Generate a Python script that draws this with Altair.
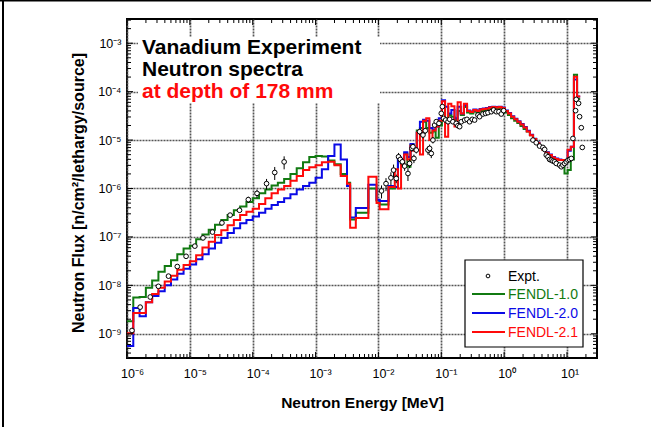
import json
import altair as alt
import pandas as pd

# ---------------------------------------------------------------------------
# Energy group boundaries, log10(E / MeV)
# ---------------------------------------------------------------------------
group_edges_log10 = [
    -6.0, -5.9, -5.8, -5.7, -5.6, -5.5, -5.4, -5.3, -5.2, -5.1,
    -5.0, -4.9, -4.8, -4.7, -4.6, -4.5, -4.4, -4.3, -4.2, -4.1,
    -4.0, -3.9, -3.8, -3.7, -3.6, -3.5, -3.4, -3.3, -3.2, -3.1,
    -3.0, -2.9, -2.8, -2.7, -2.6, -2.5,
    -2.45, -2.36, -2.16, -2.03, -1.98, -1.84, -1.74,
    -1.69, -1.64, -1.59, -1.54, -1.49, -1.44, -1.39, -1.34, -1.29, -1.24,
    -1.19, -1.14, -1.09, -1.04, -0.99, -0.94, -0.89, -0.84, -0.79, -0.74,
    -0.69, -0.64, -0.59,
    -0.54, -0.49, -0.44, -0.39, -0.34, -0.29, -0.24, -0.19, -0.14, -0.09,
    -0.04, 0.01, 0.06, 0.11, 0.16, 0.21, 0.26, 0.31, 0.36, 0.41,
    0.46, 0.51, 0.56, 0.61, 0.66, 0.71, 0.76, 0.81, 0.86, 0.91,
    0.96, 1.01, 1.06, 1.11, 1.16, 1.21,
]

# Group fluxes [n/cm2/lethargy/source], one value per group
fendl10 = [
    1.82e-9, 5.62e-9, 5.75e-9, 8.91e-9, 1.26e-8, 1.91e-8, 2.51e-8, 3.31e-8, 4.37e-8, 5.75e-8,
    6.61e-8, 8.91e-8, 1.12e-7, 1.41e-7, 1.78e-7, 2.24e-7, 2.82e-7, 3.55e-7, 4.27e-7, 5.25e-7,
    6.31e-7, 7.94e-7, 9.55e-7, 1.15e-6, 1.32e-6, 1.58e-6, 2.00e-6, 2.63e-6, 3.47e-6, 4.47e-6,
    4.68e-6, 4.57e-6, 3.80e-6, 3.16e-6, 2.00e-6,
    1.32e-6, 2.29e-7, 3.16e-7, 1.00e-6, 5.62e-7, 4.68e-7, 1.00e-6,
    1.07e-6, 3.98e-6, 3.16e-6, 5.25e-6, 2.82e-6, 7.94e-6, 6.31e-6, 1.58e-5, 1.78e-5, 2.40e-5,
    1.78e-5, 1.41e-5, 1.51e-5, 1.12e-5, 2.00e-5, 5.01e-5, 2.82e-5, 3.31e-5, 3.02e-5, 2.63e-5,
    3.98e-5, 3.31e-5, 4.79e-5,
    3.72e-5, 3.55e-5, 3.89e-5, 3.72e-5, 3.98e-5, 4.07e-5, 4.17e-5, 4.37e-5, 4.47e-5, 4.37e-5,
    4.47e-5, 4.27e-5, 3.72e-5, 3.31e-5, 2.82e-5, 2.51e-5, 2.24e-5, 1.95e-5, 1.70e-5, 1.51e-5,
    1.26e-5, 1.05e-5, 8.71e-6, 7.24e-6, 6.31e-6, 5.50e-6, 4.37e-6, 3.80e-6, 3.39e-6, 3.02e-6,
    2.82e-6, 2.04e-6, 2.40e-6, 3.98e-6, 2.24e-4, 7.08e-5,
]
fendl20 = [
    5.62e-10, 3.39e-9, 2.29e-9, 4.47e-9, 6.03e-9, 7.59e-9, 1.00e-8, 1.32e-8, 1.74e-8, 2.19e-8,
    2.69e-8, 3.47e-8, 4.37e-8, 5.75e-8, 7.59e-8, 9.55e-8, 1.20e-7, 1.51e-7, 1.91e-7, 2.24e-7,
    2.63e-7, 3.16e-7, 3.80e-7, 4.57e-7, 5.25e-7, 6.31e-7, 7.59e-7, 9.55e-7, 1.12e-6, 1.32e-6,
    1.66e-6, 2.51e-6, 4.68e-6, 8.13e-6, 3.98e-6,
    1.12e-6, 2.51e-7, 3.98e-7, 1.20e-6, 5.89e-7, 5.50e-7, 1.12e-6,
    1.07e-6, 4.37e-6, 3.98e-6, 5.62e-6, 4.47e-6, 8.32e-6, 6.61e-6, 1.41e-5, 2.40e-5, 2.63e-5,
    2.51e-5, 1.78e-5, 1.66e-5, 1.91e-5, 2.82e-5, 6.61e-5, 4.90e-5, 3.55e-5, 4.17e-5, 2.82e-5,
    4.90e-5, 3.55e-5, 5.25e-5,
    4.07e-5, 3.89e-5, 4.27e-5, 4.07e-5, 4.37e-5, 4.47e-5, 4.57e-5, 4.79e-5, 4.90e-5, 4.79e-5,
    4.90e-5, 4.68e-5, 4.07e-5, 3.63e-5, 3.09e-5, 2.75e-5, 2.45e-5, 2.14e-5, 1.86e-5, 1.55e-5,
    1.29e-5, 1.07e-5, 8.91e-6, 7.41e-6, 6.46e-6, 5.62e-6, 5.01e-6, 4.47e-6, 4.17e-6, 3.98e-6,
    3.89e-6, 3.55e-6, 6.03e-6, 7.24e-6, 1.78e-4, 7.94e-5,
]
fendl21 = [
    1.02e-9, 2.69e-9, 2.69e-9, 4.47e-9, 6.61e-9, 8.91e-9, 1.20e-8, 1.58e-8, 2.09e-8, 2.63e-8,
    3.16e-8, 4.17e-8, 6.03e-8, 7.94e-8, 1.10e-7, 1.38e-7, 1.74e-7, 2.24e-7, 2.82e-7, 3.31e-7,
    3.80e-7, 4.79e-7, 6.31e-7, 7.94e-7, 9.55e-7, 1.12e-6, 1.45e-6, 1.82e-6, 2.40e-6, 2.75e-6,
    3.02e-6, 3.47e-6, 3.55e-6, 3.02e-6, 1.82e-6,
    1.26e-6, 1.55e-7, 2.45e-7, 1.74e-6, 5.01e-7, 3.72e-7, 1.07e-6,
    2.51e-6, 1.00e-6, 3.16e-6, 5.01e-6, 3.98e-6, 7.59e-6, 6.03e-6, 1.41e-5, 5.01e-6, 2.51e-5,
    2.82e-5, 1.00e-5, 1.58e-5, 1.91e-5, 2.51e-5, 6.31e-5, 1.17e-5, 5.62e-5, 5.01e-5, 1.91e-5,
    6.03e-5, 3.55e-5, 5.62e-5,
    3.98e-5, 3.80e-5, 4.17e-5, 3.98e-5, 4.27e-5, 4.37e-5, 4.47e-5, 4.68e-5, 4.79e-5, 4.68e-5,
    4.79e-5, 4.57e-5, 3.98e-5, 3.55e-5, 3.02e-5, 2.69e-5, 2.40e-5, 2.09e-5, 1.82e-5, 1.51e-5,
    1.26e-5, 1.05e-5, 8.71e-6, 7.24e-6, 6.31e-6, 5.50e-6, 4.90e-6, 4.37e-6, 4.07e-6, 3.89e-6,
    3.89e-6, 3.89e-6, 6.31e-6, 7.24e-6, 2.04e-4, 7.94e-5,
]

# Measured spectrum: energy [MeV], flux, relative uncertainty
expt_energy = [
    1.20e-6, 1.62e-6, 2.34e-6, 3.16e-6, 4.57e-6, 6.31e-6, 8.71e-6, 1.20e-5, 1.62e-5, 2.29e-5,
    3.24e-5, 4.37e-5, 6.17e-5, 8.51e-5, 1.17e-4, 1.66e-4, 2.24e-4, 3.16e-4,
    1.12e-2, 1.32e-2, 1.58e-2, 1.74e-2,
    1.92e-2, 2.09e-2, 2.23e-2, 2.40e-2, 2.61e-2, 2.95e-2, 3.13e-2, 3.41e-2, 3.54e-2, 3.67e-2,
    4.00e-2, 4.52e-2, 5.11e-2, 5.56e-2, 6.14e-2, 6.52e-2, 6.93e-2, 7.36e-2, 7.83e-2, 8.32e-2,
    9.18e-2, 1.00e-1, 1.04e-1, 1.09e-1, 1.17e-1, 1.28e-1, 1.36e-1, 1.53e-1, 1.73e-1, 1.84e-1,
    1.96e-1, 2.08e-1, 2.35e-1, 2.56e-1, 2.82e-1, 3.11e-1, 3.39e-1, 3.83e-1, 4.07e-1, 4.60e-1,
    5.07e-1, 5.52e-1, 6.24e-1, 6.79e-1, 7.50e-1, 8.26e-1, 9.00e-1, 9.82e-1,
    2.87, 3.24, 3.66, 4.14, 4.41, 4.68, 4.98, 5.28, 5.62, 5.97,
    6.35, 6.75, 7.62, 8.11, 8.61, 9.16, 9.73, 10.35, 10.99, 11.70,
    12.42, 13.71, 14.03, 15.28, 15.85, 16.87, 17.50,
]
expt_flux = [
    1.17e-9, 3.55e-9, 5.75e-9, 9.55e-9, 1.55e-8, 2.45e-8, 3.98e-8, 6.46e-8, 9.55e-8, 1.26e-7,
    1.95e-7, 2.82e-7, 3.55e-7, 5.89e-7, 7.94e-7, 1.26e-6, 2.14e-6, 3.55e-6,
    8.91e-7, 1.26e-6, 1.66e-6, 2.40e-6,
    1.61e-6, 4.52e-6, 3.98e-6, 3.56e-6, 2.90e-6, 2.04e-6, 3.29e-6, 6.73e-6, 7.28e-6, 4.18e-6,
    6.21e-6, 1.49e-5, 1.27e-5, 1.56e-5, 6.21e-6, 6.73e-6, 5.30e-6, 1.00e-5, 2.04e-5, 2.40e-5,
    2.21e-5, 3.56e-5, 4.90e-5, 2.81e-5, 2.59e-5, 2.39e-5, 2.68e-5, 2.39e-5, 2.21e-5, 1.98e-5,
    1.89e-5, 2.39e-5, 2.59e-5, 2.68e-5, 2.39e-5, 2.68e-5, 2.59e-5, 3.29e-5, 3.04e-5, 3.45e-5,
    3.56e-5, 3.68e-5, 3.85e-5, 4.18e-5, 3.85e-5, 3.85e-5, 3.45e-5, 4.05e-5,
    1.00e-5, 8.81e-6, 7.52e-6, 7.05e-6, 6.41e-6, 4.90e-6, 4.52e-6, 3.98e-6, 3.85e-6, 3.68e-6,
    3.56e-6, 3.29e-6, 3.04e-6, 2.81e-6, 3.04e-6, 3.29e-6, 3.56e-6, 3.85e-6, 3.98e-6, 4.18e-6,
    1.08e-5, 4.05e-5, 6.93e-5, 5.74e-5, 3.04e-5, 1.80e-5, 7.05e-6,
]
expt_relerr = [
    0.05, 0.05, 0.05, 0.05, 0.05, 0.06, 0.06, 0.06, 0.08, 0.08,
    0.10, 0.10, 0.12, 0.15, 0.20, 0.25, 0.30, 0.30,
    0.30, 0.30, 0.30, 0.30,
    0.20, 0.20, 0.20, 0.20, 0.20, 0.30, 0.20, 0.15, 0.15, 0.20,
    0.15, 0.15, 0.15, 0.15, 0.20, 0.20, 0.20, 0.15, 0.10, 0.10,
    0.10, 0.05, 0.05, 0.05, 0.05, 0.05, 0.05, 0.04, 0.04, 0.04,
    0.04, 0.04, 0.04, 0.04, 0.04, 0.04, 0.04, 0.04, 0.04, 0.04,
    0.04, 0.04, 0.04, 0.04, 0.04, 0.04, 0.04, 0.04,
    0.05, 0.05, 0.05, 0.05, 0.05, 0.05, 0.05, 0.05, 0.05, 0.05,
    0.05, 0.05, 0.05, 0.05, 0.05, 0.05, 0.05, 0.05, 0.05, 0.05,
    0.05, 0.05, 0.05, 0.05, 0.05, 0.05, 0.05,
]

libraries = ["FENDL-1.0", "FENDL-2.0", "FENDL-2.1"]
library_colors = ["#117a11", "#0a0ae6", "#ff0a0a"]

x_decades = [1e-6, 1e-5, 1e-4, 1e-3, 1e-2, 1e-1, 1e0, 1e1]
x_tick_labels = ["10⁻⁶", "10⁻⁵", "10⁻⁴", "10⁻³", "10⁻²", "10⁻¹", "10⁰", "10¹"]
y_decades = [1e-9, 1e-8, 1e-7, 1e-6, 1e-5, 1e-4, 1e-3]
y_tick_labels = ["10⁻⁹", "10⁻⁸", "10⁻⁷", "10⁻⁶", "10⁻⁵", "10⁻⁴", "10⁻³"]

# ---------------------------------------------------------------------------
W, H = 470, 339
FONT = "Liberation Sans, Arial, Helvetica, sans-serif"
X_MIN, X_MAX = 1e-6, 30.0
Y_MIN, Y_MAX = 10 ** -9.5, 10 ** -2.5

xs = alt.Scale(type="log", domain=[X_MIN, X_MAX], nice=False)
ys = alt.Scale(type="log", domain=[Y_MIN, Y_MAX], nice=False)

# step histogram rows: one point per group start plus the closing edge
rows = []
for lib, values in zip(libraries, [fendl10, fendl20, fendl21]):
    for i, v in enumerate(values):
        rows.append({"library": lib, "E": 10 ** group_edges_log10[i], "flux": v})
    rows.append({"library": lib, "E": 10 ** group_edges_log10[len(values)], "flux": values[-1]})
spectra = pd.DataFrame(rows)

expt = pd.DataFrame({"E": expt_energy, "flux": expt_flux, "err": expt_relerr})
expt["lo"] = expt["flux"] * (1 - expt["err"])
expt["hi"] = expt["flux"] * (1 + expt["err"])

x_label_expr = json.dumps(x_tick_labels, ensure_ascii=False) + "[round(log(datum.value)/LN10)+6]"
y_label_expr = json.dumps(y_tick_labels, ensure_ascii=False) + "[round(log(datum.value)/LN10)+9]"

grid_style = dict(grid=True, gridColor="#555555", gridDash=[2, 1], gridWidth=1.7,
                  ticks=False, tickSize=0, domain=False,
                  labelFont=FONT, labelFontSize=12.5, labelColor="black",
                  labelFlush=False, labelOverlap=False,
                  titleFont=FONT, titleFontWeight="bold", titleColor="black")

x_axis = alt.Axis(values=x_decades, labelExpr=x_label_expr,
                  labelAlign="left", labelOffset=-6.5, labelBaseline="alphabetic",
                  labelPadding=19, title="Neutron Energy [MeV]", titleFontSize=15.5,
                  titleBaseline="alphabetic", titleY=49, **grid_style)
y_axis = alt.Axis(values=y_decades, labelExpr=y_label_expr,
                  labelBaseline="middle", labelPadding=6,
                  title="Neutron Flux [n/cm²/lethargy/source]", titleFontSize=16,
                  titleBaseline="alphabetic", titleAlign="center", titleAngle=270,
                  titleX=-44, titleY=H / 2 + 4, **grid_style)


def X(field):
    return alt.X(field, scale=xs, axis=x_axis)


def Y(field):
    return alt.Y(field, scale=ys, axis=y_axis)


lines = alt.Chart(spectra).mark_line(interpolate="step-after", strokeWidth=2, clip=True).encode(
    x=X("E:Q"),
    y=Y("flux:Q"),
    color=alt.Color("library:N", scale=alt.Scale(domain=libraries, range=library_colors), legend=None),
)

err_bars = alt.Chart(expt).mark_rule(color="black", strokeWidth=1, clip=True).encode(
    x=X("E:Q"),
    y=Y("lo:Q"),
    y2="hi:Q",
)
points = alt.Chart(expt).mark_point(shape="circle", filled=True, fill="white", stroke="black",
                                    strokeWidth=1, size=22, opacity=1, clip=True).encode(
    x=X("E:Q"),
    y=Y("flux:Q"),
)

# inward tick marks on all four sides of the frame
x_minor = [m * 10.0 ** d for d in range(-6, 2) for m in range(2, 10) if m * 10.0 ** d < X_MAX]
y_minor = [m * 10.0 ** d for d in range(-10, -2) for m in range(2, 10) if Y_MIN < m * 10.0 ** d < Y_MAX]


def x_ticks(values, length):
    d = pd.DataFrame({"E": values})
    base = alt.Chart(d).mark_rule(color="black", strokeWidth=1)
    return [base.encode(x=X("E:Q"), y=alt.value(H), y2=alt.value(H - length)),
            base.encode(x=X("E:Q"), y=alt.value(0), y2=alt.value(length))]


def y_ticks(values, length):
    d = pd.DataFrame({"flux": values})
    base = alt.Chart(d).mark_rule(color="black", strokeWidth=1)
    return [base.encode(y=Y("flux:Q"), x=alt.value(0), x2=alt.value(length)),
            base.encode(y=Y("flux:Q"), x=alt.value(W), x2=alt.value(W - length))]


tick_layers = (x_ticks(x_decades, 6) + x_ticks(x_minor, 4)
               + y_ticks(y_decades, 6) + y_ticks(y_minor, 4))

one = pd.DataFrame({"k": [0]})


def label(text, x, y, color="black", size=21, weight="bold", baseline="alphabetic"):
    return alt.Chart(one).mark_text(text=text, align="left", baseline=baseline, font=FONT,
                                    fontSize=size, fontWeight=weight, color=color).encode(
        x=alt.value(x), y=alt.value(y))


# title block sits on a white patch that hides the grid behind it
title_patch = alt.Chart(one).mark_rect(fill="white", stroke=None).encode(
    x=alt.value(11), x2=alt.value(253), y=alt.value(18), y2=alt.value(84))
annotations = [
    title_patch,
    label("Vanadium Experiment", 15, 35),
    label("Neutron spectra", 15, 57),
    label("at depth of 178 mm", 15, 79, color="#ff0a0a"),
]

# legend box
legend_box = alt.Chart(one).mark_rect(fill="white", stroke="black", strokeWidth=1.2).encode(
    x=alt.value(338), x2=alt.value(456), y=alt.value(241), y2=alt.value(328))
legend_layers = [legend_box]
legend_layers.append(alt.Chart(one).mark_point(shape="circle", filled=True, fill="white",
                                               stroke="black", strokeWidth=1, size=14,
                                               opacity=1).encode(
    x=alt.value(361), y=alt.value(257)))
legend_layers.append(label("Expt.", 381, 257.5, size=14, weight="normal", baseline="middle"))
for lib, col, ry in zip(libraries, library_colors, [275, 294, 313]):
    legend_layers.append(alt.Chart(one).mark_rule(color=col, strokeWidth=2).encode(
        x=alt.value(345), x2=alt.value(378), y=alt.value(ry)))
    legend_layers.append(label(lib, 381, ry + 0.5, color=col, size=14, weight="normal",
                               baseline="middle"))

# page frame lines along the top and left edges
frame = [
    alt.Chart(one).mark_rule(color="black", strokeWidth=2).encode(
        x=alt.value(-127), x2=alt.value(651 - 127), y=alt.value(-18.5)),
    alt.Chart(one).mark_rule(color="black", strokeWidth=2).encode(
        x=alt.value(-124), y=alt.value(-19), y2=alt.value(427 - 19)),
]

chart = alt.layer(
    lines, *tick_layers, err_bars, points, *annotations, *legend_layers, *frame
).properties(
    width=W, height=H,
    autosize=alt.AutoSizeParams(type="none"),
    padding={"left": 127, "top": 19, "right": 54, "bottom": 69},
    background="white",
).configure_view(stroke="black", strokeWidth=2)

chart.save("out.html", embed_options={"renderer": "svg", "actions": False})
